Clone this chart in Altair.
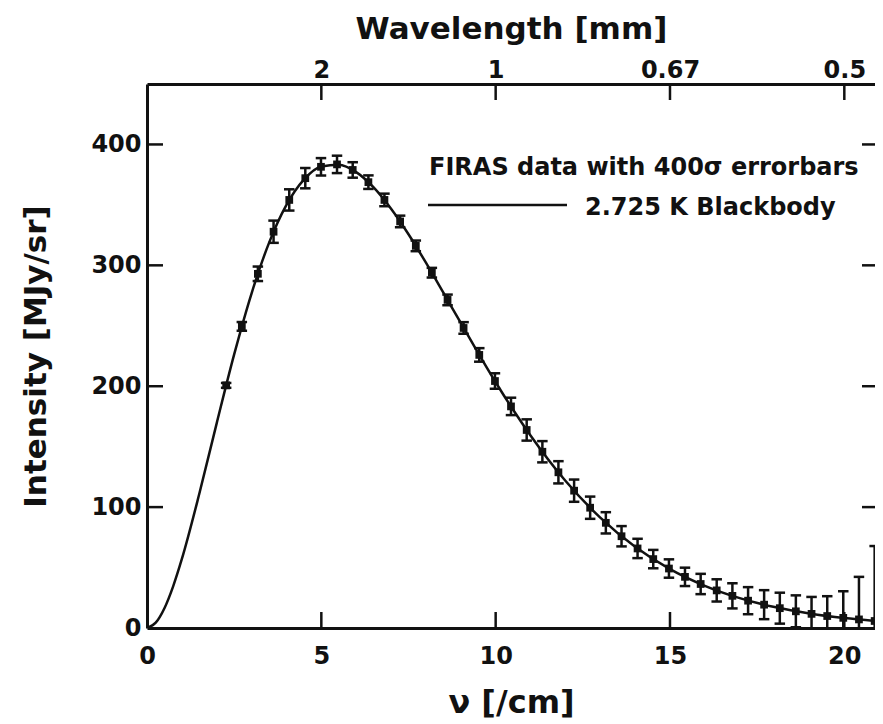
import altair as alt
import pandas as pd

# ---- data ----
nu_data = [2.27, 2.72, 3.18, 3.63, 4.08, 4.54, 4.99, 5.45, 5.90, 6.35,
           6.81, 7.26, 7.71, 8.17, 8.62, 9.08, 9.53, 9.98, 10.44, 10.89,
           11.34, 11.80, 12.25, 12.71, 13.16, 13.61, 14.07, 14.52, 14.97, 15.43,
           15.88, 16.34, 16.79, 17.24, 17.70, 18.15, 18.61, 19.06, 19.51, 19.97,
           20.42, 20.87]
intensity_data = [200.7, 249.5, 293.0, 327.8, 354.1, 372.1, 381.5, 383.5, 378.9, 368.8,
                  354.1, 336.3, 316.1, 293.9, 271.4, 248.2, 225.9, 204.3, 183.3, 163.8,
                  145.8, 128.8, 113.6, 99.5, 87.0, 75.9, 65.8, 57.0, 49.2, 42.3,
                  36.4, 31.1, 26.6, 22.6, 19.3, 16.4, 13.8, 11.7, 9.9, 8.4,
                  7.1, 5.8]
sigma_kjy = [5, 9, 15, 23, 22, 21, 18, 18, 16, 14,
             13, 12, 11, 10, 11, 12, 14, 16, 18, 22,
             22, 23, 23, 23, 22, 21, 20, 19, 19, 19,
             21, 23, 26, 28, 30, 32, 33, 35, 41, 55,
             88, 155]
errorbar_scale = 400  # "400 sigma errorbars"

curve_nu = [0, 0.25, 0.5, 0.75, 1, 1.5, 2, 2.5, 3, 3.5, 4, 4.5, 5, 5.5, 6, 6.5,
            7, 7.5, 8, 8.5, 9, 9.5, 10, 10.5, 11, 12, 13, 14, 15, 16, 17, 18, 19, 20, 21]
curve_I = [0, 4.4, 16.4, 34.5, 57.1, 111.0, 169.5, 226.3, 276.9, 318.6, 350.0, 370.9,
           381.7, 383.2, 377.1, 364.4, 346.8, 325.7, 302.2, 277.4, 252.3, 227.4, 203.3,
           180.5, 159.3, 121.8, 91.3, 67.2, 48.7, 34.9, 24.7, 17.3, 12.0, 8.2, 5.6]

x_ticks = [0, 5, 10, 15, 20]
x_inner_ticks = [5, 10, 15, 20]
y_ticks = [0, 100, 200, 300, 400]
y_inner_ticks = [100, 200, 300, 400]
wl_ticks = [5, 10, 15, 20]
wl_labels = ["2", "1", "0.67", "0.5"]
legend_labels = ["FIRAS data with 400σ errorbars", "2.725 K Blackbody"]

# ---- layout / style ----
W, H = 728, 544
XMAX, YMAX = 20.88, 450
FONT = "DejaVu Sans"
INK = "#111111"
TICK = 16

df = pd.DataFrame({"nu": nu_data, "I": intensity_data, "s": sigma_kjy})
df["lo"] = df["I"] - errorbar_scale * df["s"] / 1000.0
df["hi"] = df["I"] + errorbar_scale * df["s"] / 1000.0
curve = pd.DataFrame({"nu": curve_nu, "I": curve_I})

xs = alt.Scale(domain=[0, XMAX], nice=False, zero=False)
ys = alt.Scale(domain=[0, YMAX], nice=False, zero=False)

label_expr = " : ".join(
    f"datum.value == {v} ? '{l}'" for v, l in zip(wl_ticks, wl_labels)
) + " : ''"

bottom_axis = alt.Axis(
    orient="bottom", values=x_ticks, ticks=False, grid=False, domain=True,
    domainColor=INK, domainWidth=3,
    labelFont=FONT, labelFontWeight="bold", labelFontSize=24, labelColor=INK,
    labelBaseline="alphabetic", labelPadding=35, labelFlush=False, labelOverlap=False,
    title="ν [/cm]", titleFont=FONT, titleFontWeight="bold", titleFontSize=32,
    titleColor=INK, titleBaseline="alphabetic", titleY=84,
)
left_axis = alt.Axis(
    orient="left", values=y_ticks, ticks=False, grid=False, domain=True,
    domainColor=INK, domainWidth=3,
    labelFont=FONT, labelFontWeight="bold", labelFontSize=24, labelColor=INK,
    labelPadding=6, labelFlush=False, labelOverlap=False,
    title="Intensity [MJy/sr]", titleFont=FONT, titleFontWeight="bold", titleFontSize=31,
    titleColor=INK, titlePadding=38,
)
top_axis = alt.Axis(
    orient="top", values=wl_ticks, labelExpr=label_expr, ticks=False, grid=False,
    domain=True, domainColor=INK, domainWidth=3,
    labelFont=FONT, labelFontWeight="bold", labelFontSize=24, labelColor=INK,
    labelBaseline="alphabetic", labelPadding=7, labelFlush=False, labelOverlap=False,
    title="Wavelength [mm]", titleFont=FONT, titleFontWeight="bold", titleFontSize=31,
    titleColor=INK, titleBaseline="alphabetic", titleY=-46,
)

line = alt.Chart(curve).mark_line(color=INK, strokeWidth=2.5, interpolate="monotone", clip=True).encode(
    x=alt.X("nu:Q", scale=xs, axis=None),
    y=alt.Y("I:Q", scale=ys, axis=None),
)

bars = alt.Chart(df).mark_rule(color=INK, strokeWidth=2.5, clip=True).encode(
    x=alt.X("nu:Q", scale=xs, axis=None),
    y=alt.Y("lo:Q", scale=ys, axis=None),
    y2="hi:Q",
)
cap_shape = "M-1,0L1,0"
caps_hi = alt.Chart(df).mark_point(shape=cap_shape, size=110, strokeWidth=2.5, color=INK,
                                   filled=False, opacity=1, clip=True).encode(
    x=alt.X("nu:Q", scale=xs, axis=None),
    y=alt.Y("hi:Q", scale=ys, axis=None),
)
caps_lo = alt.Chart(df).mark_point(shape=cap_shape, size=110, strokeWidth=2.5, color=INK,
                                   filled=False, opacity=1, clip=True).encode(
    x=alt.X("nu:Q", scale=xs, axis=None),
    y=alt.Y("lo:Q", scale=ys, axis=None),
)
pts = alt.Chart(df).mark_point(shape="square", size=60, filled=True, color=INK, opacity=1,
                               clip=True).encode(
    x=alt.X("nu:Q", scale=xs, axis=None),
    y=alt.Y("I:Q", scale=ys, axis=None),
)

# inward ticks (these layers also carry the axes)
bt = alt.Chart(pd.DataFrame({"v": x_inner_ticks})).mark_rule(color=INK, strokeWidth=2.5).encode(
    x=alt.X("v:Q", scale=xs, axis=bottom_axis), y=alt.value(H), y2=alt.value(H - TICK))
tt = alt.Chart(pd.DataFrame({"v": wl_ticks})).mark_rule(color=INK, strokeWidth=2.5).encode(
    x=alt.X("v:Q", scale=xs, axis=top_axis), y=alt.value(0), y2=alt.value(TICK))
lt = alt.Chart(pd.DataFrame({"v": y_inner_ticks})).mark_rule(color=INK, strokeWidth=2.5).encode(
    y=alt.Y("v:Q", scale=ys, axis=left_axis), x=alt.value(0), x2=alt.value(TICK))
rt = alt.Chart(pd.DataFrame({"v": y_inner_ticks})).mark_rule(color=INK, strokeWidth=2.5).encode(
    y=alt.Y("v:Q", scale=ys, axis=None), x=alt.value(W - 13), x2=alt.value(W))

# legend
leg_df = pd.DataFrame({"t": legend_labels})
leg1 = alt.Chart(leg_df).transform_filter(alt.datum.t == legend_labels[0]).mark_text(
    font=FONT, fontWeight="bold", fontSize=24, color=INK, align="left", baseline="alphabetic"
).encode(text="t:N", x=alt.value(282), y=alt.value(91))
leg2 = alt.Chart(leg_df).transform_filter(alt.datum.t == legend_labels[1]).mark_text(
    font=FONT, fontWeight="bold", fontSize=24, color=INK, align="left", baseline="alphabetic"
).encode(text="t:N", x=alt.value(438), y=alt.value(131))
leg_line = alt.Chart(leg_df).transform_filter(alt.datum.t == legend_labels[1]).mark_rule(
    color=INK, strokeWidth=2.5
).encode(x=alt.value(281), x2=alt.value(420), y=alt.value(121))

chart = alt.layer(
    lt, bt, tt, line, bars, caps_hi, caps_lo, pts, rt, leg1, leg2, leg_line
).resolve_axis(x="independent", y="independent").properties(
    width=W, height=H,
    autosize=alt.AutoSizeParams(type="none"),
    padding={"left": 139, "top": 76, "right": 0, "bottom": 95},
).configure_view(stroke=None).configure(background="white")

chart.save("out.html", embed_options={"renderer": "svg", "actions": False})
